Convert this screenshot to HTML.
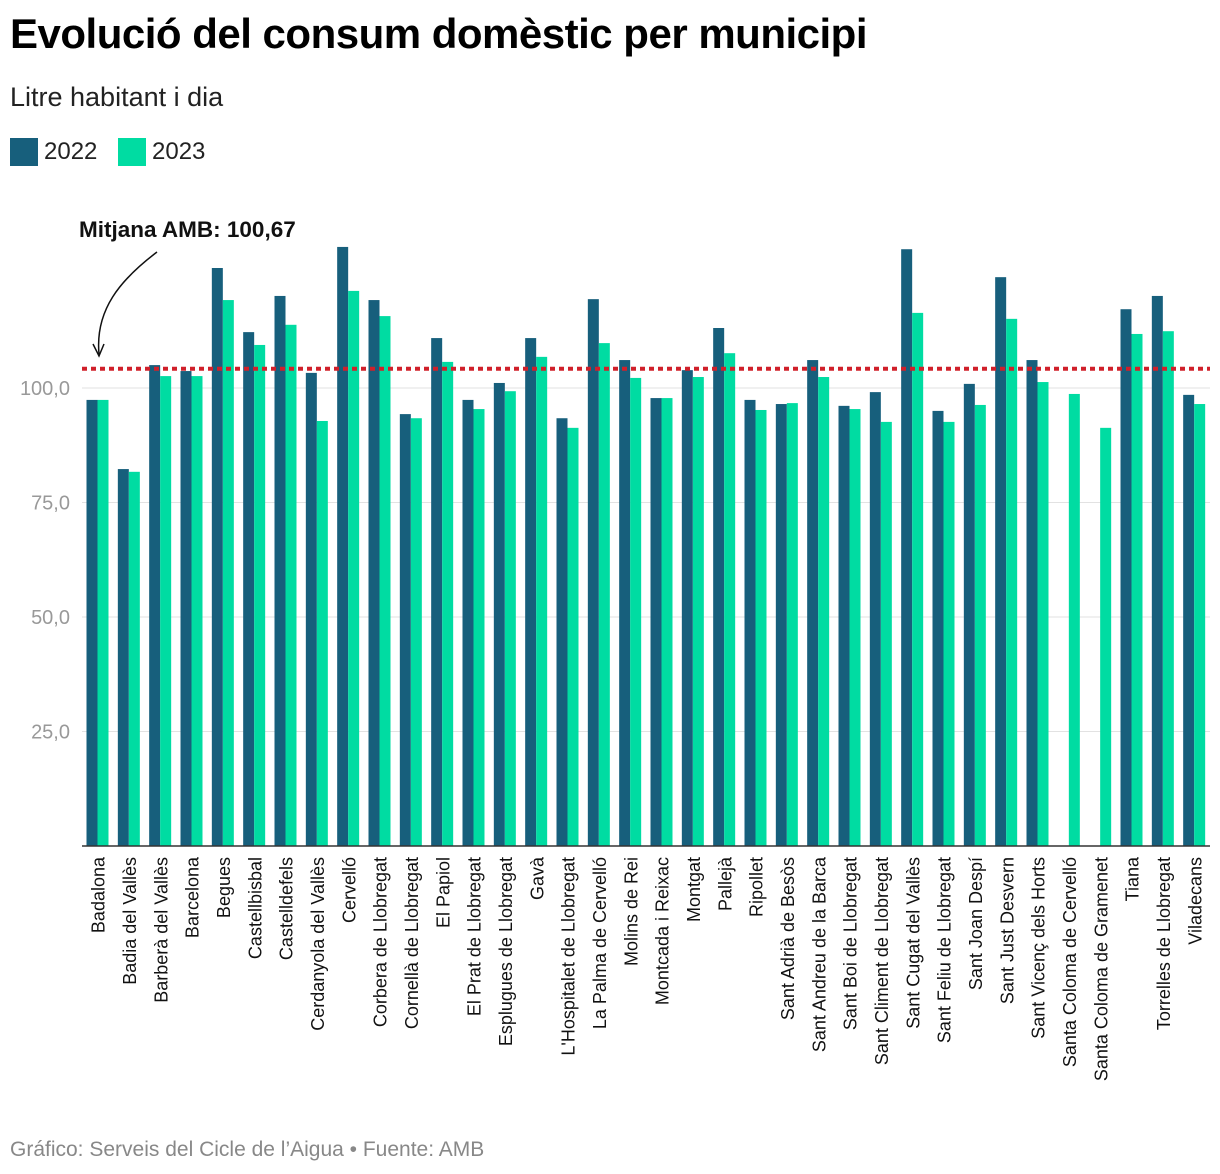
<!DOCTYPE html>
<html><head><meta charset="utf-8">
<style>
body{margin:0;background:#fff;font-family:"Liberation Sans",sans-serif;}
#wrap{position:relative;width:1220px;height:1174px;overflow:hidden}
h1{position:absolute;left:10px;top:10px;margin:0;font-size:42px;font-weight:bold;color:#000;letter-spacing:-0.5px}
.sub{position:absolute;left:10px;top:82px;font-size:27px;color:#222}
.leg{position:absolute;top:138px;font-size:24px;color:#222;display:flex;align-items:center}
.sw{width:28px;height:28px;margin-right:6px}
.foot{position:absolute;left:10px;top:1138px;font-size:21px;color:#888}
</style></head><body>
<div id="wrap">
<h1>Evolució del consum domèstic per municipi</h1>
<div class="sub">Litre habitant i dia</div>
<div class="leg" style="left:10px"><div class="sw" style="background:#175f7c"></div>2022</div>
<div class="leg" style="left:118px"><div class="sw" style="background:#00dca2"></div>2023</div>
<svg id="svg" width="1220" height="1174" style="position:absolute;left:0;top:0"></svg>
<div class="foot">Gráfico: Serveis del Cicle de l’Aigua • Fuente: AMB</div>
</div>
<script>
const categories=["Badalona","Badia del Vallès","Barberà del Vallès","Barcelona","Begues","Castellbisbal","Castelldefels","Cerdanyola del Vallès","Cervelló","Corbera de Llobregat","Cornellà de Llobregat","El Papiol","El Prat de Llobregat","Esplugues de Llobregat","Gavà","L'Hospitalet de Llobregat","La Palma de Cervelló","Molins de Rei","Montcada i Reixac","Montgat","Pallejà","Ripollet","Sant Adrià de Besòs","Sant Andreu de la Barca","Sant Boi de Llobregat","Sant Climent de Llobregat","Sant Cugat del Vallès","Sant Feliu de Llobregat","Sant Joan Despí","Sant Just Desvern","Sant Vicenç dels Horts","Santa Coloma de Cervelló","Santa Coloma de Gramenet","Tiana","Torrelles de Llobregat","Viladecans"];
const values2022=[97.4,82.3,105,103.7,126.2,112.2,120.1,103.3,130.8,119.2,94.3,110.9,97.4,101.1,110.9,93.4,119.4,106.1,97.8,103.9,113.1,97.4,96.5,106.1,96.1,99.1,130.3,95.0,100.9,124.2,106.1,null,null,117.2,120.1,98.5];
const values2023=[97.4,81.7,102.6,102.6,119.2,109.4,113.8,92.8,121.2,115.7,93.4,105.7,95.4,99.3,106.8,91.3,109.8,102.2,97.8,102.4,107.6,95.2,96.7,102.4,95.4,92.6,116.4,92.6,96.3,115.1,101.3,98.7,91.3,111.8,112.4,96.5];
const yTicks=[25,50,75,100];
const tickLabels=["25,0","50,0","75,0","100,0"];
const meanValue=104.2;
const meanLabel="Mitjana AMB: 100,67";
const svg=document.getElementById('svg');
const NS="http://www.w3.org/2000/svg";
const x0=82,x1=1210,base=846,ppu=4.58;
const y=v=>base-v*ppu;
const gw=(x1-x0)/categories.length;
const xg=i=>x0+i*gw;
function mk(t,a){const e=document.createElementNS(NS,t);for(const k in a)e.setAttribute(k,a[k]);svg.appendChild(e);return e;}
yTicks.forEach((t,i)=>{
 const g=mk('line',{x1:82,x2:1210,y1:y(t),y2:y(t),stroke:'#e2e2e2','stroke-width':1});
 
 
 const l=mk('text',{x:70,y:y(t)+7,'text-anchor':'end','font-size':20,fill:'#999','font-family':'Liberation Sans, sans-serif'});
 l.textContent=tickLabels[i];
 
 
});
categories.forEach((c,i)=>{
 const bw=11,gx=xg(i)+4.5;
 if(values2022[i]!=null){const r=mk('rect',{x:gx,y:y(values2022[i]),width:bw,height:values2022[i]*ppu,fill:'#175f7c'});
 
 }
 if(values2023[i]!=null){const r=mk('rect',{x:gx+bw,y:y(values2023[i]),width:bw,height:values2023[i]*ppu,fill:'#00dca2'});
 
 }
 const cx=xg(i)+gw/2+7;
 const t=mk('text',{x:0,y:0,transform:`translate(${cx},857) rotate(-90)`,'text-anchor':'end','font-size':18,fill:'#111','font-family':'Liberation Sans, sans-serif'});
 t.textContent=c;
 
 
});
const ax=mk('line',{x1:82,x2:1210,y1:base,y2:base,stroke:'#333','stroke-width':1.5});


const ml=mk('line',{x1:82,x2:1210,y1:y(meanValue),y2:y(meanValue),stroke:'#d0202a','stroke-width':4,'stroke-dasharray':'5,4'});


const at=mk('text',{x:79,y:237,'font-size':22.5,'font-weight':'bold',fill:'#111','font-family':'Liberation Sans, sans-serif'});
at.textContent=meanLabel;


const ap=mk('path',{d:'M157,252 C120,280 95,310 99,354',fill:'none',stroke:'#111','stroke-width':1.5});


const ah=mk('path',{d:'M93,344 L99,356 L104,344',fill:'none',stroke:'#111','stroke-width':1.5});


</script>
</body></html>
